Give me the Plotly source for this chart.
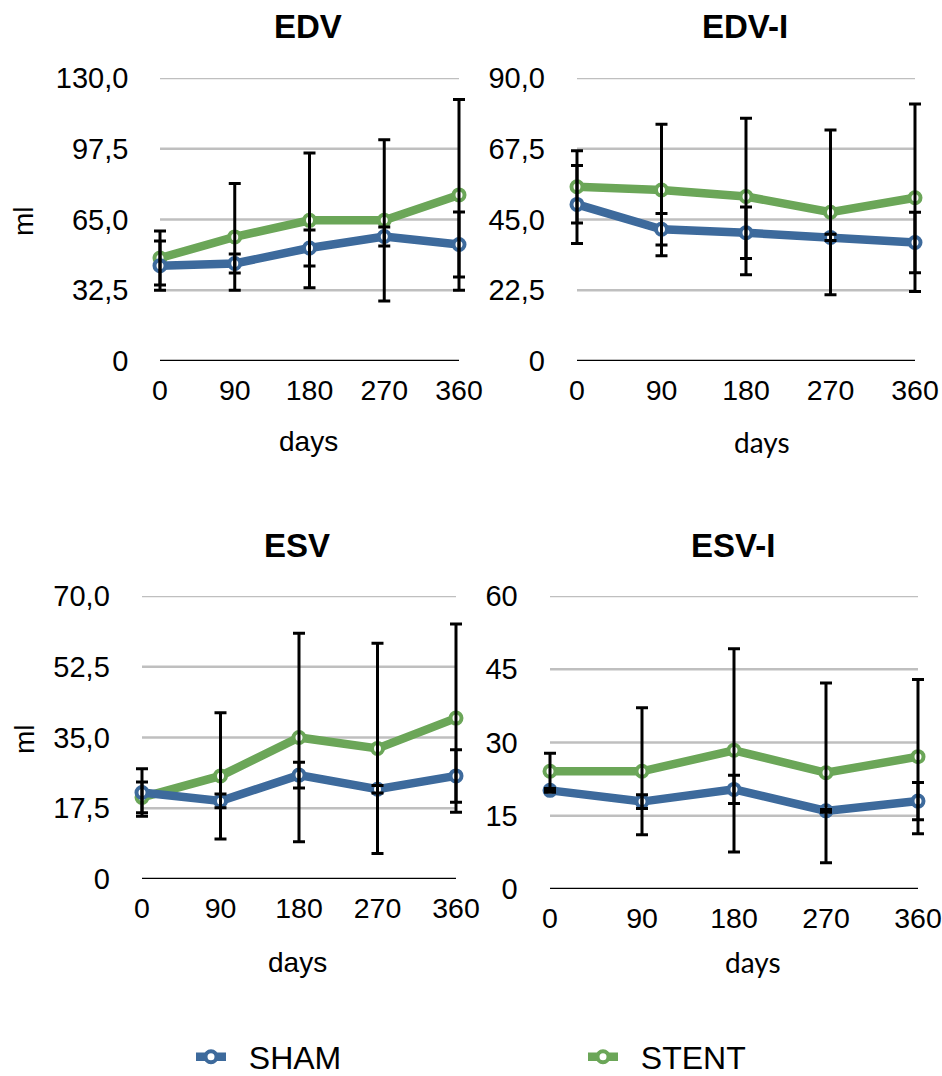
import plotly.graph_objects as go

# ---- data ---------------------------------------------------------------
days = [0, 90, 180, 270, 360]
day_labels = ["0", "90", "180", "270", "360"]
series_names = ["SHAM", "STENT"]

# EDV (ml)
edv_sham = [43.8, 44.8, 51.9, 57.2, 53.5]
edv_sham_sd = [11.3, 4.4, 8.3, 4.4, 14.9]
edv_stent = [47.3, 57.0, 64.6, 64.6, 76.3]
edv_stent_sd = [12.4, 24.5, 31.0, 37.0, 43.8]
edv_ticks = [0, 32.5, 65, 97.5, 130]
edv_tick_text = ["0", "32,5", "65,0", "97,5", "130,0"]

# EDV-I
edvi_sham = [49.8, 41.9, 40.8, 39.3, 37.7]
edvi_sham_sd = [12.4, 5.0, 8.2, 1.0, 9.6]
edvi_stent = [55.4, 54.4, 52.3, 47.3, 51.9]
edvi_stent_sd = [11.5, 20.9, 24.9, 26.2, 29.8]
edvi_ticks = [0, 22.5, 45, 67.5, 90]
edvi_tick_text = ["0", "22,5", "45,0", "67,5", "90,0"]

# ESV (ml)
esv_sham = [21.4, 19.3, 25.7, 22.2, 25.5]
esv_sham_sd = [5.9, 1.7, 3.2, 0.9, 6.5]
esv_stent = [20.2, 25.5, 35.0, 32.3, 39.8]
esv_stent_sd = [3.8, 15.6, 25.8, 26.0, 23.3]
esv_ticks = [0, 17.5, 35, 52.5, 70]
esv_tick_text = ["0", "17,5", "35,0", "52,5", "70,0"]

# ESV-I
esvi_sham = [20.2, 17.9, 20.4, 16.0, 18.0]
esvi_sham_sd = [0.4, 1.4, 2.9, 0.3, 3.8]
esvi_stent = [24.1, 24.1, 28.4, 23.8, 27.1]
esvi_stent_sd = [3.7, 13.0, 20.8, 18.4, 15.8]
esvi_ticks = [0, 15, 30, 45, 60]
esvi_tick_text = ["0", "15", "30", "45", "60"]

# ---- styling / layout -----------------------------------------------------
W, H = 942, 1076
BLUE = "#3D6A9C"
GREEN = "#6BA658"
GRID = "#BFBFBF"
FONT = "Liberation Sans"
ALT_FONT = "Lato"
XPAD = 14  # extra x-range (days) on each side so edge markers/caps are not clipped
GAP = "\u00a0\u00a0"  # spacing between legend symbol and label

panels = [
    dict(title="EDV", sham=edv_sham, sham_sd=edv_sham_sd, stent=edv_stent,
         stent_sd=edv_stent_sd, ticks=edv_ticks, tick_text=edv_tick_text,
         box=(160, 459, 78, 361), title_xy=(308, 27), days_xy=(308, 442),
         days_font=FONT, ylabel_xy=(24, 221)),
    dict(title="EDV-I", sham=edvi_sham, sham_sd=edvi_sham_sd, stent=edvi_stent,
         stent_sd=edvi_stent_sd, ticks=edvi_ticks, tick_text=edvi_tick_text,
         box=(577, 915, 78, 361), title_xy=(745, 27), days_xy=(762, 442),
         days_font=ALT_FONT, ylabel_xy=None),
    dict(title="ESV", sham=esv_sham, sham_sd=esv_sham_sd, stent=esv_stent,
         stent_sd=esv_stent_sd, ticks=esv_ticks, tick_text=esv_tick_text,
         box=(142, 456, 596, 879), title_xy=(297, 545), days_xy=(297, 962),
         days_font=FONT, ylabel_xy=(24, 739)),
    dict(title="ESV-I", sham=esvi_sham, sham_sd=esvi_sham_sd, stent=esvi_stent,
         stent_sd=esvi_stent_sd, ticks=esvi_ticks, tick_text=esvi_tick_text,
         box=(550, 918, 596, 889), title_xy=(733, 545), days_xy=(753, 962),
         days_font=ALT_FONT, ylabel_xy=None),
]


def px_x(x):
    return x / W


def px_y(y):
    return 1 - y / H


fig = go.Figure()
layout = dict(
    width=W, height=H,
    margin=dict(l=0, r=0, t=0, b=0, autoexpand=False),
    paper_bgcolor="white", plot_bgcolor="white",
    font=dict(family=FONT, color="black"),
    annotations=[], shapes=[],
)

for i, p in enumerate(panels, start=1):
    sfx = "" if i == 1 else str(i)
    xref, yref = "x" + sfx, "y" + sfx
    x0, x1, y0, y1 = p["box"]
    scale = (x1 - x0) / (days[-1] - days[0])
    pad_px = XPAD * scale

    layout["xaxis" + sfx] = dict(
        domain=[px_x(x0 - pad_px), px_x(x1 + pad_px)], anchor=yref,
        range=[days[0] - XPAD, days[-1] + XPAD],
        tickvals=days, ticktext=day_labels, showgrid=False, zeroline=False,
        showline=False, ticks="", tickfont=dict(size=28.5, family=FONT),
        ticklabelstandoff=9, fixedrange=True,
    )
    layout["yaxis" + sfx] = dict(
        domain=[px_y(y1), px_y(y0)], anchor=xref,
        range=[0, p["ticks"][-1]], tickvals=p["ticks"], ticktext=p["tick_text"],
        showgrid=False, zeroline=False, showline=False, ticks="",
        tickfont=dict(size=29, family=FONT),
        ticklabelstandoff=int(round(31 - pad_px)), fixedrange=True,
    )

    # horizontal gridlines across the day span, black baseline at zero
    for t in p["ticks"]:
        layout["shapes"].append(dict(
            type="line", xref=xref, yref=yref, x0=days[0], x1=days[-1],
            y0=t, y1=t, layer="below",
            line=dict(color="black" if t == 0 else GRID,
                      width=2.5),
        ))

    # series lines with hollow markers (STENT underneath SHAM)
    for name, vals, color, leg in ((series_names[1], p["stent"], GREEN, "legend2"),
                                   (series_names[0], p["sham"], BLUE, "legend")):
        fig.add_trace(go.Scatter(
            x=days, y=vals, name=GAP + name, mode="lines+markers",
            xaxis=xref, yaxis=yref, cliponaxis=False,
            line=dict(color=color, width=8.5),
            marker=dict(symbol="circle", size=11, color="white",
                        line=dict(color=color, width=4)),
            showlegend=(i == 1), legend=leg,
        ))

    # standard-deviation bars drawn over both lines
    for vals, sd in ((p["sham"], p["sham_sd"]), (p["stent"], p["stent_sd"])):
        fig.add_trace(go.Scatter(
            x=days, y=vals, mode="markers", xaxis=xref, yaxis=yref,
            cliponaxis=False, showlegend=False, hoverinfo="skip",
            marker=dict(size=1, color="rgba(0,0,0,0)"),
            error_y=dict(type="data", array=sd, visible=True, color="black",
                         thickness=3, width=6),
        ))

    tx, ty = p["title_xy"]
    layout["annotations"].append(dict(
        text="<b>%s</b>" % p["title"], x=px_x(tx), y=px_y(ty),
        xref="paper", yref="paper", showarrow=False,
        xanchor="center", yanchor="middle",
        font=dict(size=33, family=FONT, color="black"),
    ))
    dx, dy = p["days_xy"]
    layout["annotations"].append(dict(
        text="days", x=px_x(dx), y=px_y(dy), xref="paper", yref="paper",
        showarrow=False, xanchor="center", yanchor="middle",
        font=dict(size=28, family=p["days_font"], color="black"),
    ))
    if p["ylabel_xy"]:
        lx, ly = p["ylabel_xy"]
        layout["annotations"].append(dict(
            text="ml", x=px_x(lx), y=px_y(ly), xref="paper", yref="paper",
            showarrow=False, textangle=-90, xanchor="center", yanchor="middle",
            font=dict(size=28, family=FONT, color="black"),
        ))

legend_style = dict(
    orientation="h", xanchor="left", yanchor="middle",
    font=dict(size=32, family=FONT, color="black"),
    bgcolor="rgba(0,0,0,0)", itemwidth=30,
)
layout["legend"] = dict(legend_style, x=px_x(191), y=px_y(1057))
layout["legend2"] = dict(legend_style, x=px_x(583), y=px_y(1057))
layout["showlegend"] = True

fig.update_layout(**layout)
fig.write_html("out.html")
